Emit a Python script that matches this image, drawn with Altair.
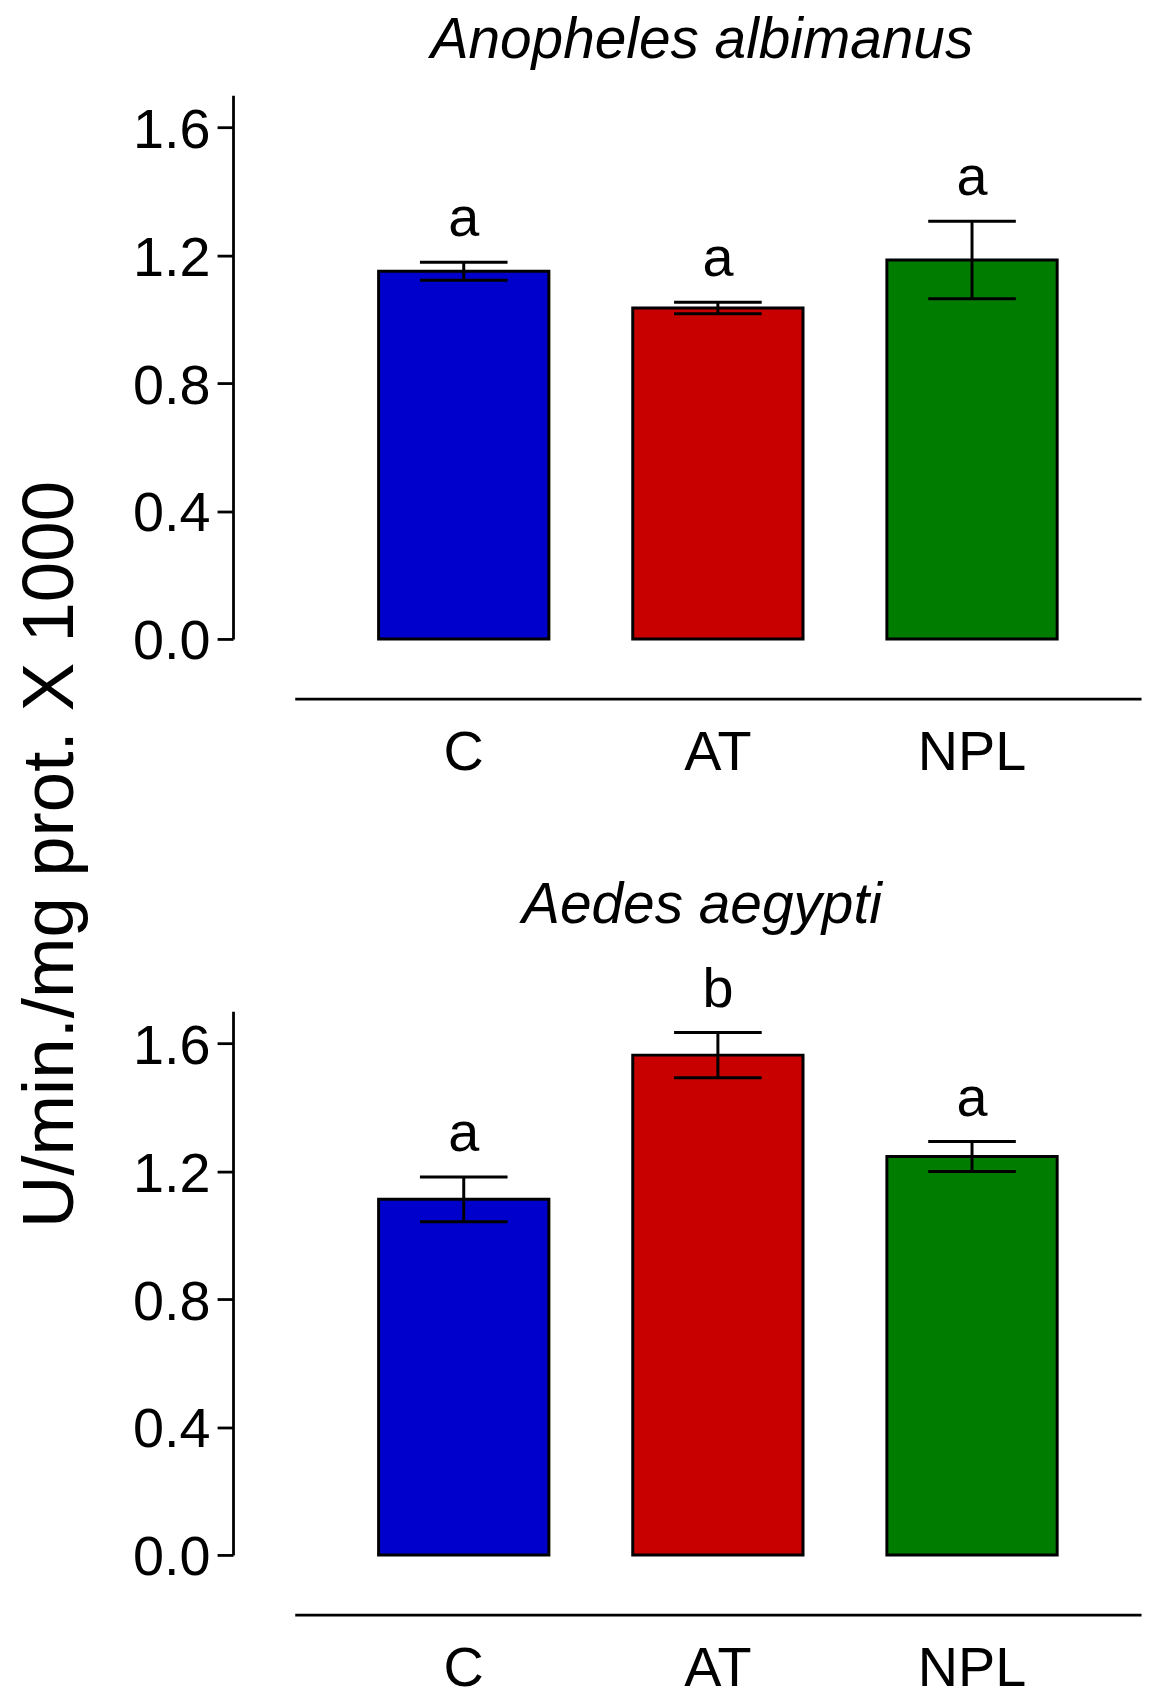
import altair as alt
import pandas as pd

groups = ["C", "AT", "NPL"]
colors = ["#0000CC", "#C80000", "#007D00"]

anoph_mean = [1.150, 1.035, 1.185]
anoph_err = [0.028, 0.018, 0.121]
anoph_letters = ["a", "a", "a"]

aedes_mean = [1.112, 1.563, 1.246]
aedes_err = [0.070, 0.071, 0.047]
aedes_letters = ["a", "b", "a"]

y_ticks = [0.0, 0.4, 0.8, 1.2, 1.6]
y_title = "U/min./mg prot. X 1000"

FONT = "Liberation Sans"


def panel(mean, err, letters, title, title_offset):
    df = pd.DataFrame({
        "g": groups,
        "m": mean,
        "lo": [m - e for m, e in zip(mean, err)],
        "hi": [m + e for m, e in zip(mean, err)],
        "lab": letters,
    })
    xenc = alt.X(
        "g:N", sort=groups,
        scale=alt.Scale(paddingInner=0.33, paddingOuter=0.33),
        axis=alt.Axis(title=None, labelAngle=0, ticks=False, tickSize=0,
                      domainWidth=2.8, domainColor="black",
                      labelFontSize=56, labelFont=FONT, labelColor="black",
                      labelPadding=71, labelBaseline="alphabetic", offset=60),
    )
    yscale = alt.Scale(domain=[0, 1.7], nice=False, zero=True)
    yaxis = alt.Axis(
        title="", values=y_ticks, format=".1f", offset=62, tickSize=16,
        tickWidth=2.8, tickColor="black", domainWidth=2.8, domainColor="black",
        labelFontSize=56, labelFont=FONT, labelColor="black", labelPadding=7,
        labelBaseline="alphabetic", labelOffset=20, grid=False,
    )

    base = alt.Chart(df)
    bars = base.mark_bar(stroke="black", strokeWidth=3).encode(
        x=xenc,
        y=alt.Y("m:Q", scale=yscale, axis=yaxis),
        color=alt.Color("g:N", scale=alt.Scale(domain=groups, range=colors), legend=None),
    )
    rule = base.mark_rule(color="black", strokeWidth=3).encode(
        x=xenc,
        y=alt.Y("lo:Q", scale=yscale, axis=yaxis),
        y2="hi:Q",
    )
    cap_hi = base.mark_tick(color="black", size=88, thickness=3, opacity=1).encode(
        x=xenc, y=alt.Y("hi:Q", scale=yscale, axis=yaxis)
    )
    cap_lo = base.mark_tick(color="black", size=88, thickness=3, opacity=1).encode(
        x=xenc, y=alt.Y("lo:Q", scale=yscale, axis=yaxis)
    )
    text = base.mark_text(fontSize=56, font=FONT, baseline="alphabetic",
                          dy=-26, color="black").encode(
        x=xenc, y=alt.Y("hi:Q", scale=yscale, axis=yaxis), text="lab:N"
    )
    return alt.layer(bars, rule, cap_hi, cap_lo, text).properties(
        width=850, height=546,
        title=alt.TitleParams(text=title, fontSize=57, font=FONT,
                              fontStyle="italic", fontWeight="normal",
                              baseline="alphabetic", offset=title_offset,
                              frame="group", anchor="middle", dx=-16,
                              color="black"),
    )


top = panel(anoph_mean, anoph_err, anoph_letters, "Anopheles albimanus", -20)
bottom = panel(aedes_mean, aedes_err, aedes_letters, "Aedes aegypti", -18)

chart = alt.vconcat(top, bottom, spacing=374, bounds="flush").properties(
    title=alt.TitleParams(text=y_title, orient="left", anchor="middle",
                          frame="bounds", fontSize=73, font=FONT,
                          fontWeight="normal", color="black", offset=44),
    padding={"left": 7, "top": 0, "right": 5, "bottom": 0},
).configure_view(stroke="transparent")

chart.save("out.html", embed_options={"renderer": "svg", "actions": False})
